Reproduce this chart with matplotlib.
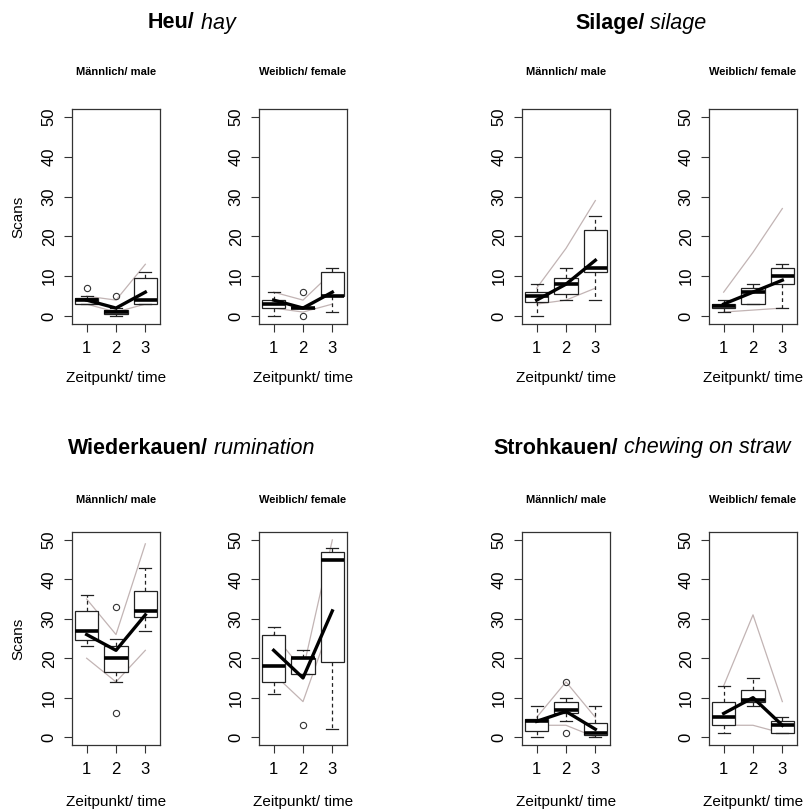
import numpy as np
import matplotlib
matplotlib.use("Agg")
import matplotlib.pyplot as plt

plt.rcParams['font.family'] = ['Liberation Sans', 'DejaVu Sans']

# group titles (bold part, italic part)
groups_bold = ["Heu/", "Silage/", "Wiederkauen/", "Strohkauen/"]
groups_ital = [" hay", " silage", " rumination", " chewing on straw"]
sexes = ["Männlich/ male", "Weiblich/ female"]
times = [1, 2, 3]

# box statistics per panel (order: hay m, hay f, silage m, silage f,
# rumination m, rumination f, straw m, straw f), one value per time point
q1 = [[3, 0.5, 3], [2, 2, 5], [3.5, 5.5, 11], [2, 3, 8],
      [24.5, 16.5, 30.5], [14, 16, 19], [1.5, 6, 0.5], [3, 9, 1]]
med = [[4, 1, 4], [3, 2, 5], [5, 8, 12], [2.5, 6, 10],
       [27, 20, 32], [18, 20, 45], [4, 7, 1], [5, 9.5, 3]]
q3 = [[4.5, 1.5, 9.5], [4, 2, 11], [6, 9.5, 21.5], [3, 7, 12],
      [32, 23, 37], [26, 20, 47], [4.5, 9, 3.5], [9, 12, 4]]
whislo = [[3, 0, 3], [0, 2, 1], [0, 4, 4], [1, 3, 2],
          [23, 14, 27], [11, 16, 2], [0, 4, 0], [1, 8, 1]]
whishi = [[5, 2, 11], [6, 2, 12], [8, 12, 25], [4, 8, 13],
          [36, 25, 43], [28, 22, 48], [8, 10, 8], [13, 15, 5]]
fliers = [[[7], [5], []], [[], [0, 6], []], [[], [], []], [[], [], []],
          [[], [33, 6], []], [[], [3], []], [[], [14, 1], []], [[], [], []]]

# mean line and the two thin grey lines
means = [[4, 2, 6], [4, 2, 6], [4, 8, 14], [3, 6, 9],
         [26, 22, 31], [22, 15, 32], [4, 6.5, 2], [6, 10, 3]]
upper = [[5, 4, 13], [6, 4, 11], [7, 17, 29], [6, 16, 27],
         [35, 26, 49], [26, 17, 50], [5, 14, 5], [13, 31, 9]]
lower = [[3, 1, 3], [2, 1, 3], [3, 4, 7], [1, 1.5, 2],
         [20, 14, 22], [16, 9, 30], [3, 3, 0], [3, 3, 1]]

W, H = 805, 809
fig = plt.figure(figsize=(W / 100, H / 100), dpi=100)

col_x = [72, 259, 522, 709]
row_y = [(109, 324), (532, 745)]
pw = 88
grey = '#c2b4b4'

for i in range(8):
    row = i // 4
    col = i % 4
    top, bot = row_y[row]
    ax = fig.add_axes([col_x[col] / W, 1 - bot / H, pw / W, (bot - top) / H])

    ax.plot(times, upper[i], color=grey, lw=0.9, zorder=1)
    ax.plot(times, lower[i], color=grey, lw=0.9, zorder=1)

    stats = []
    for t in range(3):
        stats.append(dict(q1=q1[i][t], med=med[i][t], q3=q3[i][t],
                          whislo=whislo[i][t], whishi=whishi[i][t],
                          fliers=fliers[i][t]))
    ax.bxp(stats, positions=times, widths=0.8, capwidths=0.4,
           patch_artist=True, showfliers=True,
           boxprops=dict(facecolor='white', edgecolor='#222222', lw=0.9),
           medianprops=dict(color='black', lw=2.6),
           whiskerprops=dict(color='#222222', lw=0.9, linestyle=(0, (3, 2.5))),
           capprops=dict(color='#222222', lw=0.9),
           flierprops=dict(marker='o', markerfacecolor='none',
                           markeredgecolor='#333333', markersize=4.5, mew=0.8),
           zorder=2)

    ax.plot(times, means[i], color='black', lw=2.4, zorder=4)

    ax.set_xlim(0.5, 3.5)
    ax.set_ylim(-2, 52)
    ax.set_xticks(times)
    ax.set_xticklabels(['1', '2', '3'])
    ax.set_yticks([0, 10, 20, 30, 40, 50])
    ax.tick_params(axis='both', labelsize=12, length=6, width=0.8,
                   color='#333333')
    ax.tick_params(axis='x', pad=6)
    ax.tick_params(axis='y', pad=5)
    for lab in ax.get_yticklabels():
        lab.set_rotation(90)
        lab.set_va('center')
    for s in ax.spines.values():
        s.set_linewidth(0.9)
        s.set_color('#333333')

    cx = col_x[col] + pw / 2
    sub_y = 72 if row == 0 else 500
    fig.text(cx / W, 1 - sub_y / H, sexes[col % 2], ha='center', va='center',
             fontsize=8, fontweight='bold')
    xl_y = 378 if row == 0 else 802
    fig.text(cx / W, 1 - xl_y / H, "Zeitpunkt/ time", ha='center',
             va='center', fontsize=11)
    if col == 0:
        fig.text(18 / W, 1 - ((top + bot) / 2) / H, "Scans", rotation=90,
                 ha='center', va='center', fontsize=11)

# group titles: bold part followed by italic part
title_x = [148, 575, 68, 493]
title_y = [23, 23, 448, 448]
renderer = fig.canvas.get_renderer()
for g in range(4):
    tb = fig.text(title_x[g] / W, 1 - title_y[g] / H, groups_bold[g],
                  ha='left', va='center', fontsize=15.5, fontweight='bold')
    bb = tb.get_window_extent(renderer=renderer)
    fig.text(bb.x1 / W, 1 - title_y[g] / H, groups_ital[g], ha='left',
             va='center', fontsize=15.5, style='italic')

fig.savefig('out.png', dpi=100)
